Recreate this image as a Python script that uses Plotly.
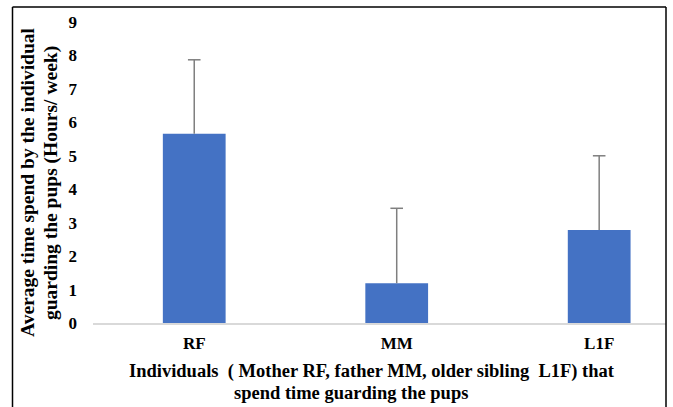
import plotly.graph_objects as go

categories = ["RF", "MM", "L1F"]
means = [5.66, 1.19, 2.78]
errors = [2.21, 2.24, 2.22]
y_ticks = [0, 1, 2, 3, 4, 5, 6, 7, 8, 9]

W, H = 673, 407
L, R, T, B = 93, 7, 22, 84
pw, ph = W - L - R, H - T - B

def px_x(x):
    return (x - L) / pw

def px_y(y):
    return (H - B - y) / ph

FONT = "Liberation Serif"
ERR_COLOR = "#7f7f7f"

fig = go.Figure()
fig.add_trace(go.Bar(
    x=categories, y=means, width=0.31,
    marker=dict(color="#4472C4", line=dict(width=0)),
    error_y=dict(type="data", array=errors, arrayminus=[0] * len(errors), symmetric=False,
                 color=ERR_COLOR, thickness=1.5, width=0),
))
# caps at the top of the error bars
fig.add_trace(go.Scatter(
    x=categories, y=[m + e for m, e in zip(means, errors)], mode="markers",
    marker=dict(symbol="line-ew-open", size=9, color=ERR_COLOR,
                line=dict(color=ERR_COLOR, width=1.5)),
    hoverinfo="skip",
))

fig.update_layout(
    width=W, height=H,
    margin=dict(l=L, r=R, t=T, b=B),
    paper_bgcolor="white", plot_bgcolor="white",
    showlegend=False,
    font=dict(family=FONT, color="black"),
    xaxis=dict(range=[-0.5, 2.33], showline=True, linecolor="#d9d9d9", linewidth=1.5,
               showgrid=False, zeroline=False, ticks="", automargin=False,
               tickfont=dict(family=FONT, size=17, color="black", weight="bold"),
               ticklabelstandoff=4),
    yaxis=dict(range=[0, 9], tickvals=y_ticks, showgrid=False, zeroline=False,
               showline=False, ticks="", automargin=False,
               tickfont=dict(family=FONT, size=17, color="black", weight="bold"),
               ticklabelstandoff=15),
)

annots = [
    dict(text="Average time spend by the individual", x=px_x(28), y=px_y(182), textangle=-90, size=19.5),
    dict(text="guarding the pups (Hours/ week)", x=px_x(51), y=px_y(183), textangle=-90, size=19.5),
    dict(text="Individuals\u00a0\u00a0( Mother RF, father MM, older sibling\u00a0\u00a0L1F)\u00a0that",
         x=px_x(372), y=px_y(371), size=18.5),
    dict(text="spend time guarding the pups", x=px_x(351), y=px_y(393), size=18.5),
]
for a in annots:
    size = a.pop("size")
    fig.add_annotation(xref="paper", yref="paper", showarrow=False,
                       xanchor="center", yanchor="middle",
                       font=dict(family=FONT, size=size, color="black", weight="bold"), **a)

# outer frame (left, top, right)
frame = dict(color="black", width=1.5)
x0, x1, y0, y1 = px_x(12.5), px_x(666), px_y(412), px_y(7)
fig.add_shape(type="line", xref="paper", yref="paper", x0=x0, x1=x0, y0=y0, y1=y1, line=frame)
fig.add_shape(type="line", xref="paper", yref="paper", x0=x0, x1=x1, y0=y1, y1=y1, line=frame)
fig.add_shape(type="line", xref="paper", yref="paper", x0=x1, x1=x1, y0=y0, y1=y1, line=frame)

fig.write_html("out.html", config={"displayModeBar": False},
               post_script="document.body.style.margin='0';document.body.style.overflow='hidden';")
